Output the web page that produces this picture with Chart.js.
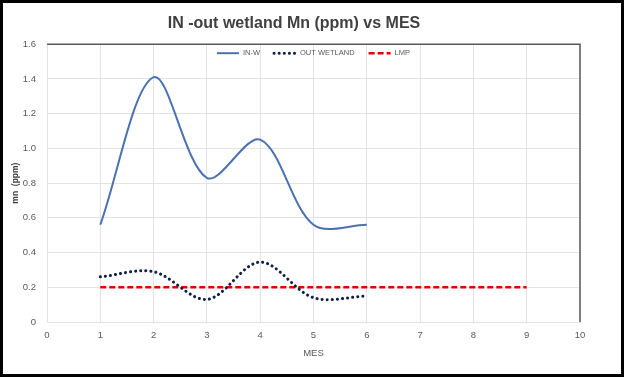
<!DOCTYPE html>
<html>
<head>
<meta charset="utf-8">
<script src="https://cdn.jsdelivr.net/npm/chart.js@4"></script>
<style>
  html, body { margin: 0; padding: 0; background: #fff; }
  #wrap { width: 624px; height: 377px; }
</style>
</head>
<body>
<div id="wrap"><canvas id="mnChart" width="624" height="377"></canvas></div>
<script>
// months and readings
const meses = [1, 2, 3, 4, 5, 6];
const inW = [0.56, 1.41, 0.83, 1.05, 0.56, 0.56];
const outWetland = [0.26, 0.29, 0.13, 0.345, 0.14, 0.15];
const lmpMeses = [1, 9];
const lmp = [0.2, 0.2];

const pts = (xs, ys) => xs.map((x, i) => ({ x: x, y: ys[i] }));

const grey = '#595959';
const font = 'Liberation Sans, Arial, sans-serif';

// frame around the picture + dark top/right edge of the plot
const framePlugin = {
  id: 'frame',
  afterDraw(chart) {
    const c = chart.ctx, a = chart.chartArea;
    c.save();
    c.strokeStyle = '#595959';
    c.lineWidth = 1.5;
    c.beginPath();
    c.moveTo(a.left, a.top);
    c.lineTo(a.right, a.top);
    c.lineTo(a.right, a.bottom);
    c.stroke();
    c.strokeStyle = '#000';
    c.lineWidth = 3;
    c.strokeRect(1.5, 1.5, chart.width - 3, chart.height - 3);
    c.restore();
  }
};

// legend drawn inside the plot, near the top edge
const insideLegend = {
  id: 'insideLegend',
  afterDatasetsDraw(chart) {
    const c = chart.ctx, a = chart.chartArea;
    const sw = 22, gap = 4, sep = 14;
    c.save();
    c.font = '7.5px ' + font;
    c.textBaseline = 'middle';
    const sets = chart.data.datasets;
    let total = 0;
    sets.forEach((d, i) => {
      total += sw + gap + c.measureText(d.label).width + (i < sets.length - 1 ? sep : 0);
    });
    let x = (a.left + a.right) / 2 - total / 2;
    const y = a.top + 9;
    sets.forEach(d => {
      c.strokeStyle = d.borderColor;
      c.lineWidth = d.borderWidth;
      c.lineCap = d.borderCapStyle || 'butt';
      c.setLineDash(d.borderDash || []);
      c.beginPath();
      c.moveTo(x, y);
      c.lineTo(x + sw, y);
      c.stroke();
      c.setLineDash([]);
      x += sw + gap;
      c.fillStyle = grey;
      c.fillText(d.label, x, y);
      x += c.measureText(d.label).width + sep;
    });
    c.restore();
  }
};

const ctx = document.getElementById('mnChart');

new Chart(ctx, {
  type: 'line',
  data: {
    datasets: [
      {
        label: 'IN-W',
        data: pts(meses, inW),
        borderColor: '#4a72b2',
        backgroundColor: '#4a72b2',
        borderWidth: 2,
        tension: 0.33,
        pointRadius: 0
      },
      {
        label: 'OUT WETLAND',
        data: pts(meses, outWetland),
        borderColor: '#0f1f45',
        backgroundColor: '#0f1f45',
        borderWidth: 3,
        borderDash: [0.1, 5],
        borderCapStyle: 'round',
        tension: 0.33,
        pointRadius: 0
      },
      {
        label: 'LMP',
        data: pts(lmpMeses, lmp),
        borderColor: '#e00000',
        backgroundColor: '#e00000',
        borderWidth: 2.5,
        borderDash: [6, 3],
        pointRadius: 0
      }
    ]
  },
  options: {
    responsive: false,
    animation: false,
    layout: { padding: { left: 8, right: 44, top: 0, bottom: 10 } },
    plugins: {
      title: {
        display: true,
        text: 'IN -out wetland Mn (ppm) vs MES',
        color: '#404040',
        font: { family: font, size: 16, weight: 'bold' },
        padding: { top: 14, bottom: 11 }
      },
      legend: { display: false },
      tooltip: { enabled: false }
    },
    scales: {
      x: {
        type: 'linear',
        min: 0,
        max: 10,
        ticks: { stepSize: 1, color: grey, font: { family: font, size: 9.5 }, padding: 8 },
        grid: { color: '#e3e3e3', drawTicks: false },
        border: { color: '#e3e3e3' },
        title: { display: true, text: 'MES', color: grey, font: { family: font, size: 9.5 }, padding: { top: 2, bottom: 8 } },
        afterFit(s) { s.height = 45; }
      },
      y: {
        min: 0,
        max: 1.6,
        ticks: { stepSize: 0.2, color: grey, font: { family: font, size: 9.5 }, padding: 11 },
        grid: { color: '#e3e3e3', drawTicks: false },
        border: { color: '#e3e3e3' },
        title: { display: true, text: 'mn  (ppm)', color: '#404040', font: { family: font, size: 8.5, weight: 'bold' }, padding: { top: 3, bottom: 2 } },
        afterFit(s) { s.width = 39; }
      }
    }
  },
  plugins: [framePlugin, insideLegend]
});
</script>
</body>
</html>
